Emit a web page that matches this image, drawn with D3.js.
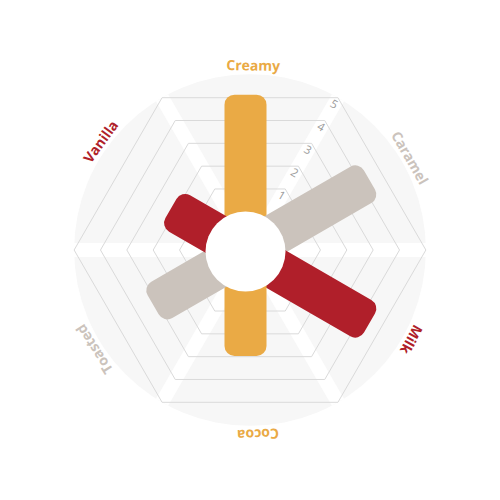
<html>
<head>
  <script src="https://d3js.org/d3.v7.min.js"></script>
  <style>
    body { margin: 0; background: #fff; }
    .grid { fill: none; stroke: #dadada; stroke-width: 1px; }
    .tick-label { font-family: "Open Sans", sans-serif; font-size: 11.5px; fill: #9c9c9c; }
    .axis-label { font-family: "Open Sans", sans-serif; font-size: 14px; font-weight: 700; }
  </style>
</head>
<body>
  <svg id="chart" width="500" height="500"></svg>
  <script>
    // flavour profile
    const flavours = ["Creamy", "Caramel", "Milk", "Cocoa", "Toasted", "Vanilla"];
    const scores = [5.2, 4.6, 4.6, 2.9, 3.0, 2.1];
    const flavourColors = ["#eaaa45", "#cbc3bc", "#b01f2a", "#eaaa45", "#cbc3bc", "#b01f2a"];
    const tickValues = [1, 2, 3, 4, 5];

    const svg = d3.select("#chart");
    const width = +svg.attr("width");
    const height = +svg.attr("height");
    const cx = width / 2, cy = height / 2;

    // radial scale: distance from centre to the hexagon edge on each axis
    const rScale = d3.scaleLinear().domain([0, 5]).range([38.2, 152.3]);
    const angleScale = d3.scalePoint().domain(flavours).range([0, 300]);
    const outerR = rScale(5) / Math.cos(Math.PI / 6);

    const grid = svg.append("g").attr("transform", `translate(${cx},${cy})`);

    grid.append("circle").attr("r", outerR).attr("fill", "#f7f7f7");

    // white bands between the axes (through the hexagon corners)
    grid.selectAll("line.band").data(d3.range(6))
        .join("line")
        .attr("class", "band")
        .attr("x1", 0).attr("y1", 0)
        .attr("x2", d => outerR * Math.sin(Math.PI / 6 + d * Math.PI / 3))
        .attr("y2", d => -outerR * Math.cos(Math.PI / 6 + d * Math.PI / 3))
        .attr("stroke", "#fff")
        .attr("stroke-width", 14);

    function hexagon(v) {
      const R = rScale(v) / Math.cos(Math.PI / 6);
      const pts = d3.range(6).map(i => {
        const a = Math.PI / 6 + i * Math.PI / 3;
        return [R * Math.sin(a), -R * Math.cos(a)];
      });
      return d3.line()(pts) + "Z";
    }

    grid.selectAll("path.grid").data(tickValues)
        .join("path")
        .attr("class", "grid")
        .attr("d", d => hexagon(d));

    grid.selectAll("text.tick-label").data(tickValues)
        .join("text")
        .attr("class", "tick-label")
        .attr("text-anchor", "middle")
        .attr("dominant-baseline", "central")
        .attr("transform", d => `rotate(30) translate(0,${-(rScale(d) / Math.cos(Math.PI / 6) - 7)})`)
        .text(d => d);

    // bars, slightly off the grid centre as in the original
    const bars = svg.append("g").attr("transform", `translate(${cx - 4.5},${cy + 1.5})`);
    const barWidth = 42;

    bars.selectAll("rect.bar").data(flavours)
        .join("rect")
        .attr("class", "bar")
        .attr("transform", d => `rotate(${angleScale(d)})`)
        .attr("x", -barWidth / 2)
        .attr("y", (d, i) => -rScale(scores[i]))
        .attr("width", barWidth)
        .attr("height", (d, i) => rScale(scores[i]))
        .attr("rx", 10)
        .attr("fill", (d, i) => flavourColors[i]);

    bars.append("circle").attr("r", 40).attr("fill", "#fff");

    // axis labels (small angular nudges to sit where the original has them)
    const labelNudge = [1, 0, -1, -2.5, -2.5, 6];
    const labels = svg.append("g").attr("transform", `translate(${cx},${cy})`);
    labels.selectAll("text.axis-label").data(flavours)
        .join("text")
        .attr("class", "axis-label")
        .attr("text-anchor", "middle")
        .attr("dominant-baseline", "central")
        .attr("transform", (d, i) => `rotate(${angleScale(d) + labelNudge[i]}) translate(0,-185)`)
        .attr("fill", (d, i) => flavourColors[i])
        .text(d => d);
  </script>
</body>
</html>
